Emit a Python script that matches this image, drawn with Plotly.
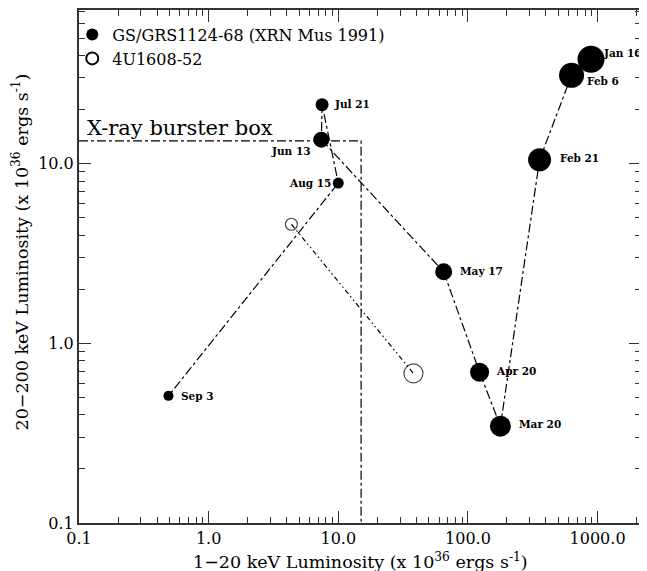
import math
import plotly.graph_objects as go

# GS/GRS1124-68 (XRN Mus 1991)
gs_dates = ["Jan 16", "Feb 6", "Feb 21", "Mar 20", "Apr 20", "May 17", "Jun 13", "Jul 21", "Aug 15", "Sep 3"]
gs_lx = [890, 630, 357, 178, 123, 65, 7.4, 7.5, 10.0, 0.49]
gs_ly = [38.1, 31.0, 10.5, 0.346, 0.69, 2.5, 13.6, 21.3, 7.8, 0.51]
gs_size = [27, 25, 23, 21, 19, 17, 16, 13, 11, 10]
# label placement (style): anchor side and pixel offsets from the marker centre
gs_lab_anchor = ["left", "left", "left", "left", "left", "left", "right", "left", "right", "left"]
gs_lab_dx = [10, 13, 18, 17, 14, 14, -8, 10, -5, 11]
gs_lab_dy = [6, -6, 2, 2, 1, 1, -11, 1, 0, 0]

# 4U1608-52
u_lx = [4.35, 38]
u_ly = [4.6, 0.68]
u_size = [12, 19]

# X-ray burster box corner
box_x = 15.0
box_y = 13.4

x_ticks = [0.1, 1, 10, 100, 1000]
x_ticktext = ["0.1", "1.0", "10.0", "100.0", "1000.0"]
y_ticks = [0.1, 1, 10]
y_ticktext = ["0.1", "1.0", "10.0"]
minor_ticks = [m * 10 ** e for e in range(-1, 4) for m in range(2, 10)]

serif = "DejaVu Serif"

fig = go.Figure()

fig.add_trace(go.Scatter(
    x=[x_ticks[0], box_x, box_x], y=[box_y, box_y, y_ticks[0]],
    mode="lines", line=dict(color="black", width=1.2, dash="dashdot"),
    showlegend=False, hoverinfo="skip"))

fig.add_trace(go.Scatter(
    x=u_lx, y=u_ly, mode="lines+markers",
    line=dict(color="black", width=1.2, dash="5px,3px,1.5px,3px,1.5px,3px"),
    marker=dict(symbol="circle-open", size=u_size, color="black", line=dict(width=1.2, color="black")),
    showlegend=False))

fig.add_trace(go.Scatter(
    x=gs_lx, y=gs_ly, mode="lines",
    line=dict(color="black", width=1.2, dash="dashdot"),
    showlegend=False, hoverinfo="skip"))

fig.add_trace(go.Scatter(
    x=gs_lx, y=gs_ly, mode="markers", cliponaxis=False,
    marker=dict(symbol="circle", size=gs_size, color="#000000", opacity=1,
                line=dict(width=0, color="#000000")),
    showlegend=False))

for d, lx, ly, anc, dx, dy in zip(gs_dates, gs_lx, gs_ly, gs_lab_anchor, gs_lab_dx, gs_lab_dy):
    fig.add_annotation(x=math.log10(lx), y=math.log10(ly), xref="x", yref="y", text=d,
                       showarrow=False, xanchor=anc, yanchor="middle", xshift=dx, yshift=dy,
                       font=dict(family=serif, size=10.5, color="black", weight="bold"))

# legend entries
fig.add_trace(go.Scatter(x=[None], y=[None], mode="markers", name="GS/GRS1124-68 (XRN Mus 1991)",
                         marker=dict(symbol="circle", size=15, color="black")))
fig.add_trace(go.Scatter(x=[None], y=[None], mode="markers", name="4U1608-52",
                         marker=dict(symbol="circle-open", size=15, color="black", line=dict(width=1.2))))

fig.add_annotation(x=-1, y=math.log10(box_y), xref="x", yref="y", text="X-ray burster box",
                   showarrow=False, xanchor="left", yanchor="bottom", xshift=6, yshift=-1,
                   font=dict(family=serif, size=21, color="black"))

axis_common = dict(type="log", showgrid=False, zeroline=False, showline=True, linecolor="#333",
                   linewidth=2, mirror="allticks", ticks="inside", ticklen=12, tickcolor="#333",
                   tickwidth=1.2, tickfont=dict(family=serif, size=16, color="black"),
                   automargin=False,
                   minor=dict(ticks="inside", ticklen=6, tickcolor="#333", tickwidth=1, showgrid=False,
                              tickvals=minor_ticks))

fig.update_xaxes(range=[-1, 3.335], tickvals=x_ticks, ticktext=x_ticktext, **axis_common)
fig.update_yaxes(range=[-1, 1.855], tickvals=y_ticks, ticktext=y_ticktext, **axis_common)

fig.add_annotation(x=0.5, y=0, xref="paper", yref="paper", yshift=-38, showarrow=False,
                   xanchor="center", yanchor="middle",
                   text="1−20 keV Luminosity (x 10<sup>36</sup> ergs s<sup>-1</sup>)",
                   font=dict(family=serif, size=17.5, color="black"))
fig.add_annotation(x=0, y=0.5, xref="paper", yref="paper", xshift=-59, yshift=14, showarrow=False,
                   xanchor="center", yanchor="middle", textangle=-90,
                   text="20−200 keV Luminosity (x 10<sup>36</sup> ergs s<sup>-1</sup>)",
                   font=dict(family=serif, size=17.5, color="black"))

# page body has an 8px margin, so the figure is sized to end at the window edge
fig.update_layout(
    width=639, height=563,
    margin=dict(l=71, r=6, t=2, b=48),
    paper_bgcolor="white", plot_bgcolor="white",
    legend=dict(x=-0.012, y=0.985, xanchor="left", yanchor="top", bgcolor="rgba(0,0,0,0)",
                font=dict(family=serif, size=16, color="black"), itemsizing="constant",
                tracegroupgap=0),
    showlegend=True,
)

fig.write_html("out.html")
